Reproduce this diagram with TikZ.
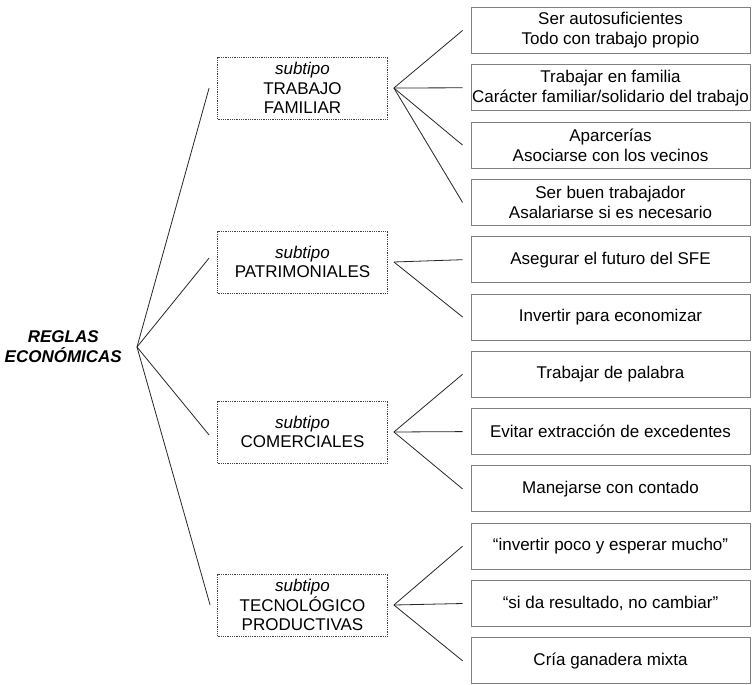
\documentclass[tikz,border=0pt]{standalone}
\usepackage{fontspec}
\setmainfont{Liberation Sans}
\begin{document}
\begin{tikzpicture}[x=1pt,y=-1pt,
  leaf/.style={draw=black!50, line width=0.9pt, minimum width=279pt,
    minimum height=46pt, inner sep=0pt, align=center,
    font=\fontsize{17}{20}\selectfont},
  subbox/.style={draw=black!75, densely dotted, line width=0.8pt,
    minimum width=170pt, minimum height=62pt, inner sep=0pt, align=center,
    font=\fontsize{17}{19.5}\selectfont},
  link/.style={draw=black!85, line width=0.8pt},
]
\clip (0,0) rectangle (752,685);

% root label
\node[font=\fontsize{17}{20}\selectfont\bfseries\itshape, anchor=east,
      inner xsep=15pt, inner ysep=0pt, align=center] (root) at (137,347)
  {REGLAS\\ECONÓMICAS};

% subtypes
\node[subbox] (t1) at (302.5,88)  {{\itshape subtipo}\\TRABAJO\\FAMILIAR};
\node[subbox] (t2) at (302.5,262) {{\itshape subtipo}\\PATRIMONIALES};
\node[subbox] (t3) at (302.5,432) {{\itshape subtipo}\\COMERCIALES};
\node[subbox] (t4) at (302.5,605) {{\itshape subtipo}\\TECNOLÓGICO\\PRODUCTIVAS};

% rules
\node[leaf] (r1)  at (610.5,30.5)  {Ser autosuficientes\\Todo con trabajo propio};
\node[leaf] (r2)  at (610.5,87.8)  {Trabajar en familia\\Carácter familiar/solidario del trabajo};
\node[leaf] (r3)  at (610.5,145.1) {Aparcerías\\Asociarse con los vecinos};
\node[leaf] (r4)  at (610.5,202.4) {Ser buen trabajador\\Asalariarse si es necesario};
\node[leaf] (r5)  at (610.5,259.7) {Asegurar el futuro del SFE};
\node[leaf] (r6)  at (610.5,317.0) {Invertir para economizar};
\node[leaf] (r7)  at (610.5,374.3) {Trabajar de palabra};
\node[leaf] (r8)  at (610.5,431.6) {Evitar extracción de excedentes};
\node[leaf] (r9)  at (610.5,488.9) {Manejarse con contado};
\node[leaf] (r10) at (610.5,546.2) {“invertir poco y esperar mucho”};
\node[leaf] (r11) at (610.5,603.5) {“si da resultado, no cambiar”};
\node[leaf] (r12) at (610.5,660.8) {Cría ganadera mixta};

% root to subtypes
\draw[link] (root.east) -- ([xshift=-8pt]t1.west);
\draw[link] (root.east) -- ([xshift=-8pt,yshift=4pt]t2.west);
\draw[link] (root.east) -- ([xshift=-8pt,yshift=-3pt]t3.west);
\draw[link] (root.east) -- ([xshift=-7pt]t4.west);

% subtypes to rules
\foreach \s/\r in {t1/r1,t1/r2,t1/r3,t1/r4,t2/r5,t2/r6,t3/r7,t3/r8,t3/r9,t4/r10,t4/r11,t4/r12}
  \draw[link] ([xshift=6pt]\s.east) -- ([xshift=-8pt]\r.west);
\end{tikzpicture}
\end{document}
